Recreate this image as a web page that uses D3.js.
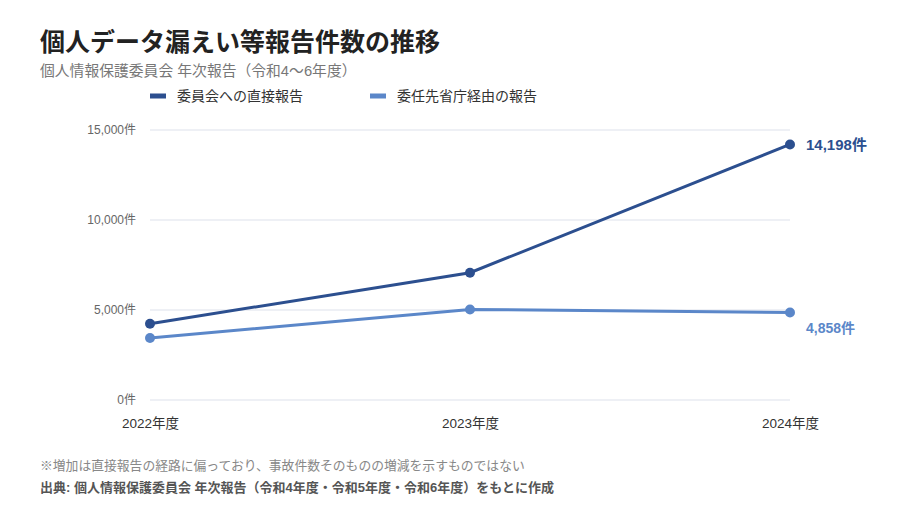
<!DOCTYPE html>
<html>
<head>
  <meta charset="utf-8">
  <script src="https://cdn.jsdelivr.net/npm/d3@7"></script>
  <style>
    html, body { margin: 0; padding: 0; background: #fff; }
    svg { display: block; font-family: "Liberation Sans", "Noto Sans CJK JP", sans-serif; }
  </style>
</head>
<body>
<svg width="900" height="522"></svg>
<script>
// data
var years = ["2022年度", "2023年度", "2024年度"];
var directReports = [4237, 7070, 14198];     // 委員会への直接報告
var delegatedReports = [3448, 5030, 4858];   // 委任先省庁経由の報告
var seriesNames = ["委員会への直接報告", "委任先省庁経由の報告"];
var yTicks = [0, 5000, 10000, 15000];

var colors = ["#2c4f8f", "#5b87c9"];
var fontStack = "\"Liberation Sans\", \"Noto Sans CJK JP\", sans-serif";

var svg = d3.select("svg"),
    margin = {top: 130, right: 110, bottom: 122, left: 150},
    width = +svg.attr("width") - margin.left - margin.right,
    height = +svg.attr("height") - margin.top - margin.bottom;

// title block
svg.append("text")
    .attr("x", 40).attr("y", 51)
    .attr("font-size", 25).attr("font-weight", "bold")
    .attr("fill", "#222")
    .text("個人データ漏えい等報告件数の推移");

svg.append("text")
    .attr("x", 40).attr("y", 76)
    .attr("font-size", 14.8).attr("fill", "#777")
    .text("個人情報保護委員会 年次報告（令和4〜6年度）");

// legend
var legend = svg.append("g")
  .selectAll("g")
  .data(seriesNames)
  .enter().append("g")
    .attr("transform", function(d, i) { return "translate(" + (150 + i * 220) + ",96)"; });

legend.append("rect")
    .attr("x", 0).attr("y", -2.5)
    .attr("width", 16).attr("height", 5)
    .attr("fill", function(d, i) { return colors[i]; });

legend.append("text")
    .attr("x", 27).attr("dy", "0.35em")
    .attr("font-size", 14).attr("fill", "#333")
    .text(function(d) { return d; });

var g = svg.append("g").attr("transform", "translate(" + margin.left + "," + margin.top + ")");

var x = d3.scalePoint()
    .domain(years)
    .range([0, width]);

var y = d3.scaleLinear()
    .domain([0, 15000])
    .range([height, 0]);

// grid
g.append("g")
  .selectAll("line")
  .data(yTicks)
  .enter().append("line")
    .attr("x1", 0).attr("x2", width)
    .attr("y1", function(d) { return y(d); })
    .attr("y2", function(d) { return y(d); })
    .attr("stroke", "#eef0f5")
    .attr("stroke-width", 2);

// y axis
var yAxis = g.append("g")
    .call(d3.axisLeft(y).tickValues(yTicks).tickSize(0).tickPadding(14)
      .tickFormat(function(d) { return d3.format(",")(d) + "件"; }));
yAxis.select(".domain").remove();
yAxis.selectAll("text")
    .attr("font-family", fontStack)
    .attr("font-size", 12).attr("fill", "#666");

// x axis
var xAxis = g.append("g")
    .attr("transform", "translate(0," + height + ")")
    .call(d3.axisBottom(x).tickSize(0).tickPadding(18));
xAxis.select(".domain").remove();
xAxis.selectAll("text")
    .attr("font-family", fontStack)
    .attr("font-size", 13.5).attr("fill", "#333");

var series = [directReports, delegatedReports];

var line = d3.line()
    .x(function(d, i) { return x(years[i]); })
    .y(function(d) { return y(d); });

series.slice().reverse().forEach(function(values, k) {
  var idx = series.length - 1 - k;
  g.append("path")
      .datum(values)
      .attr("fill", "none")
      .attr("stroke", colors[idx])
      .attr("stroke-width", 3)
      .attr("d", line);

  g.selectAll(null)
    .data(values)
    .enter().append("circle")
      .attr("cx", function(d, i) { return x(years[i]); })
      .attr("cy", function(d) { return y(d); })
      .attr("r", 5)
      .attr("fill", colors[idx]);
});

// end labels
var last = years.length - 1;
g.append("text")
    .attr("x", x(years[last]) + 16)
    .attr("y", y(directReports[last]))
    .attr("dy", "0.35em")
    .attr("font-size", 15).attr("font-weight", "bold")
    .attr("fill", colors[0])
    .text(d3.format(",")(directReports[last]) + "件");

g.append("text")
    .attr("x", x(years[last]) + 16)
    .attr("y", y(delegatedReports[last]) + 16)
    .attr("dy", "0.35em")
    .attr("font-size", 14).attr("font-weight", "bold")
    .attr("fill", colors[1])
    .text(d3.format(",")(delegatedReports[last]) + "件");

// notes
svg.append("text")
    .attr("x", 40).attr("y", 470)
    .attr("font-size", 12.8).attr("fill", "#888")
    .text("※増加は直接報告の経路に偏っており、事故件数そのものの増減を示すものではない");

svg.append("text")
    .attr("x", 40).attr("y", 492)
    .attr("font-size", 13).attr("font-weight", "bold").attr("fill", "#555")
    .text("出典: 個人情報保護委員会 年次報告（令和4年度・令和5年度・令和6年度）をもとに作成");
</script>
</body>
</html>
